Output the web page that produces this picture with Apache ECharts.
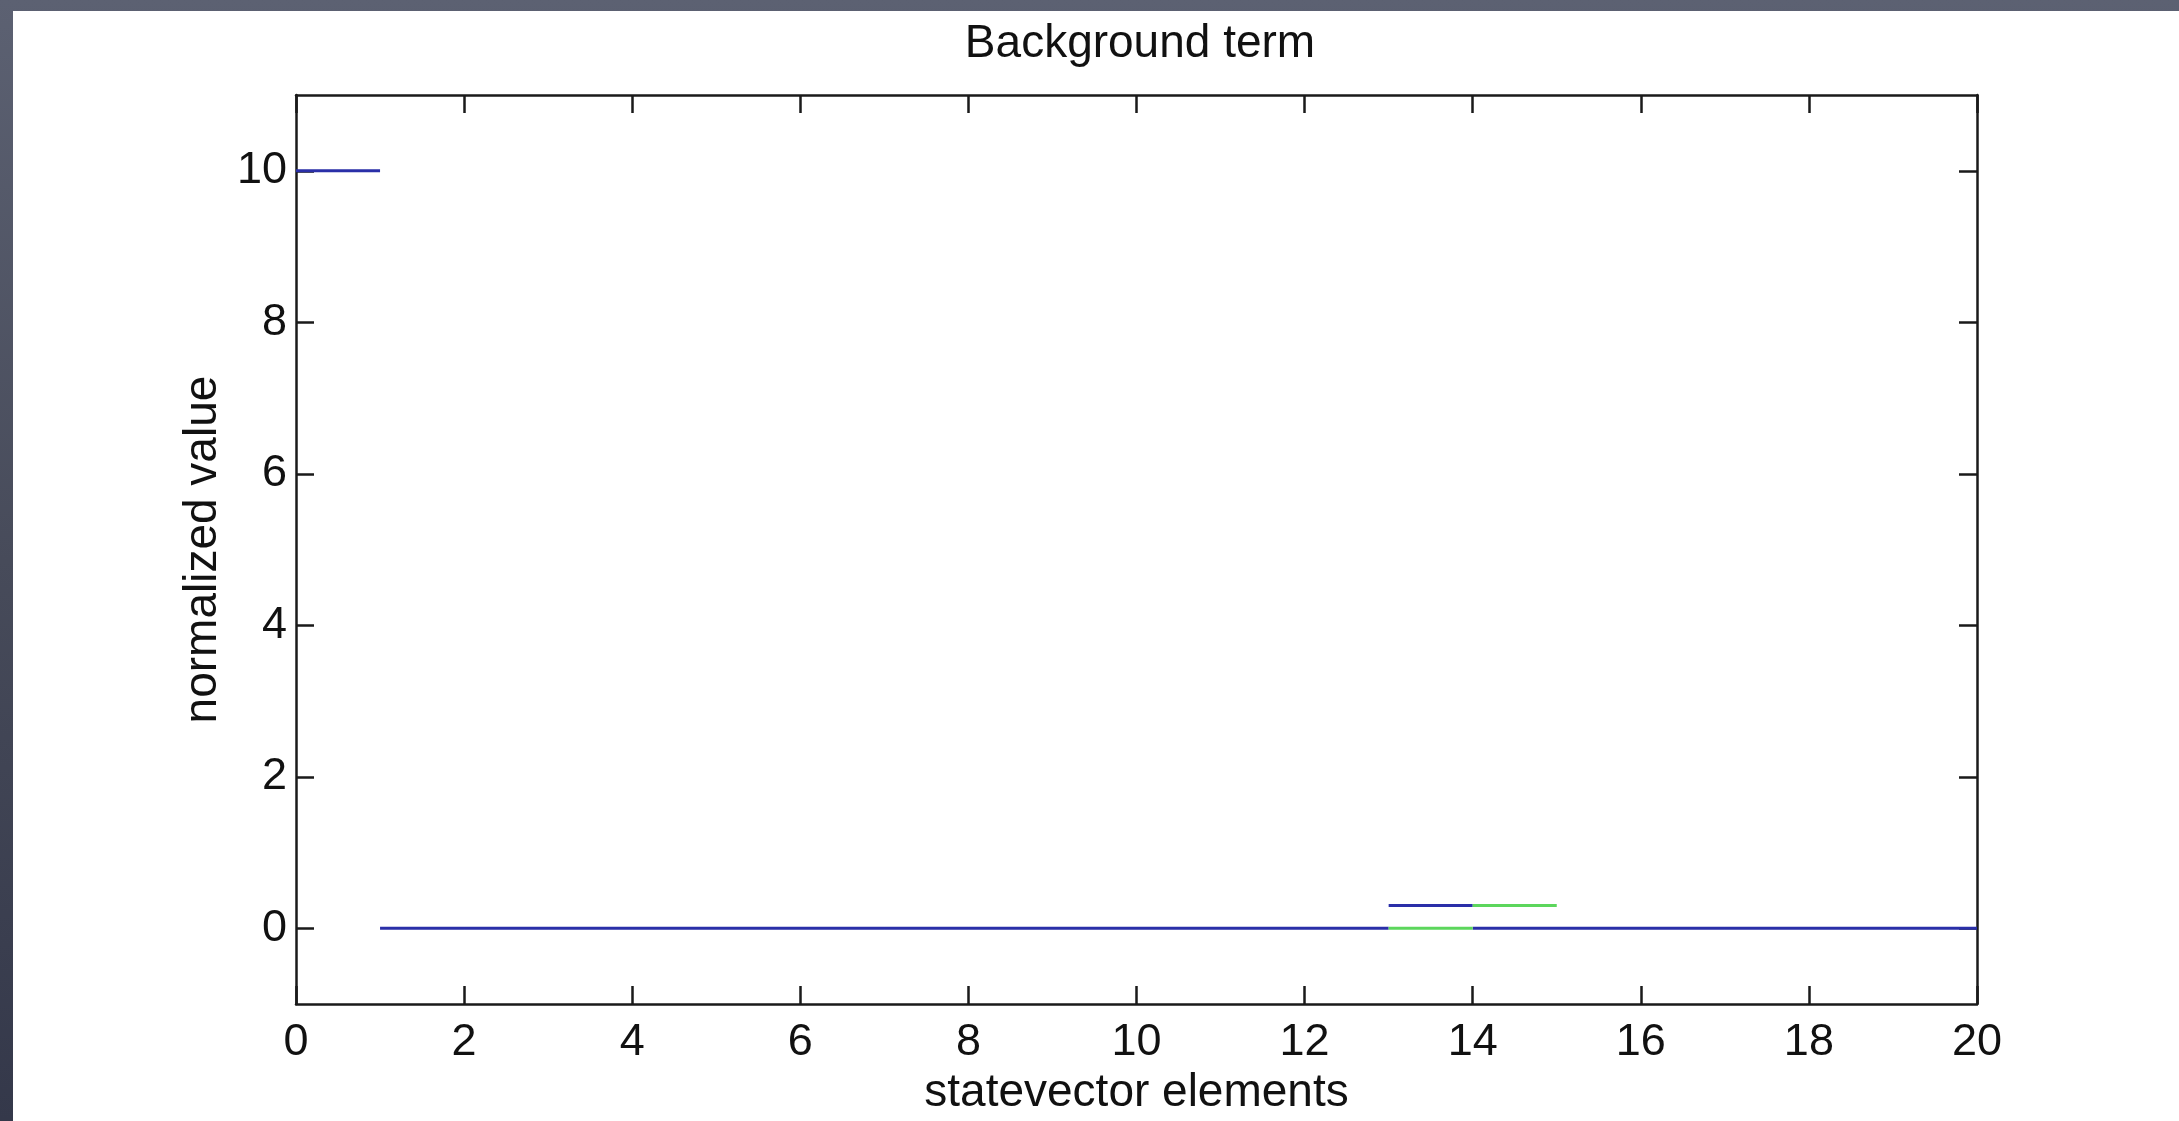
<!DOCTYPE html>
<html>
<head>
<meta charset="utf-8">
<script src="https://cdn.jsdelivr.net/npm/echarts@6/dist/echarts.min.js"></script>
<style>
  html, body { margin: 0; padding: 0; width: 2179px; height: 1121px; overflow: hidden;
    background: linear-gradient(180deg, #5c6172 0%, #474b5a 50%, #34384a 100%); }
  #panel { position: absolute; left: 13px; top: 11px; width: 2166px; height: 1110px; background: #ffffff; }
  #chart { position: absolute; left: 0; top: 0; width: 2179px; height: 1121px; }
</style>
</head>
<body>
<div id="panel"></div>
<div id="chart"></div>
<script>
// ---- data ----
const titleText = 'Background term';
const xAxisName = 'statevector elements';
const yAxisName = 'normalized value';
const xTicks = [0, 2, 4, 6, 8, 10, 12, 14, 16, 18, 20];
const yTicks = [0, 2, 4, 6, 8, 10];
const blueElements = [1, 2, 3, 4, 5, 6, 7, 8, 9, 10, 11, 12, 13, 14, 15, 16, 17, 18, 19, 20];
const blueValues   = [10, 0, 0, 0, 0, 0, 0, 0, 0, 0, 0, 0, 0, 0.3, 0, 0, 0, 0, 0, 0];
const greenElements = [14, 15];
const greenValues   = [0, 0.3];

// each element is drawn as a horizontal segment from (element-1) to element
function segments(elements, values) {
  const out = [];
  elements.forEach((e, i) => {
    out.push([e - 1, values[i]]);
    out.push([e, values[i]]);
    out.push([e, '-']);
  });
  return out;
}

const font = 'Liberation Sans, Arial, Helvetica, sans-serif';
const axisColor = '#1a1a1a';
const chart = echarts.init(document.getElementById('chart'), null, { renderer: 'canvas' });

chart.setOption({
  backgroundColor: 'transparent',
  animation: false,
  title: {
    text: titleText,
    left: 1135,
    textAlign: 'center',
    top: 16,
    textStyle: { fontFamily: font, fontSize: 46, fontWeight: 'normal', color: '#111' }
  },
  grid: { left: 296, top: 95, right: 202, bottom: 115, containLabel: false },
  xAxis: [
    {
      type: 'value', position: 'bottom', min: 0, max: 20, interval: 2,
      name: xAxisName, nameLocation: 'middle', nameGap: 64,
      nameTextStyle: { fontFamily: font, fontSize: 46, color: '#111' },
      axisLine: { show: true, onZero: false, lineStyle: { color: axisColor, width: 2.5 } },
      axisTick: { show: true, inside: true, length: 18, lineStyle: { color: axisColor, width: 2.5 } },
      axisLabel: { show: true, margin: 16, fontFamily: font, fontSize: 45, color: '#111',
        customValues: xTicks },
      splitLine: { show: false }
    },
    {
      type: 'value', position: 'top', min: 0, max: 20, interval: 2,
      axisLine: { show: true, onZero: false, lineStyle: { color: axisColor, width: 2.5 } },
      axisTick: { show: true, inside: true, length: 18, lineStyle: { color: axisColor, width: 2.5 } },
      axisLabel: { show: false },
      splitLine: { show: false }
    }
  ],
  yAxis: [
    {
      type: 'value', position: 'left', min: -1, max: 11,
      name: yAxisName, nameLocation: 'middle', nameGap: 64, nameRotate: 90,
      nameTextStyle: { fontFamily: font, fontSize: 46, color: '#111' },
      axisLine: { show: true, onZero: false, lineStyle: { color: axisColor, width: 2.5 } },
      axisTick: { show: true, inside: true, length: 18, customValues: yTicks,
        lineStyle: { color: axisColor, width: 2.5 } },
      axisLabel: { show: true, margin: 9, fontFamily: font, fontSize: 45, color: '#111',
        customValues: yTicks },
      splitLine: { show: false }
    },
    {
      type: 'value', position: 'right', min: -1, max: 11,
      axisLine: { show: true, onZero: false, lineStyle: { color: axisColor, width: 2.5 } },
      axisTick: { show: true, inside: true, length: 18, customValues: yTicks,
        lineStyle: { color: axisColor, width: 2.5 } },
      axisLabel: { show: false },
      splitLine: { show: false }
    }
  ],
  series: [
    {
      type: 'line', xAxisIndex: 0, yAxisIndex: 0, z: 2,
      data: segments(blueElements, blueValues),
      showSymbol: false, connectNulls: false,
      lineStyle: { color: '#2a2fa8', width: 3, cap: 'butt' }
    },
    {
      type: 'line', xAxisIndex: 0, yAxisIndex: 0, z: 3,
      data: segments(greenElements, greenValues),
      showSymbol: false, connectNulls: false,
      lineStyle: { color: '#5cd65c', width: 3, cap: 'butt' }
    }
  ]
});
</script>
</body>
</html>
